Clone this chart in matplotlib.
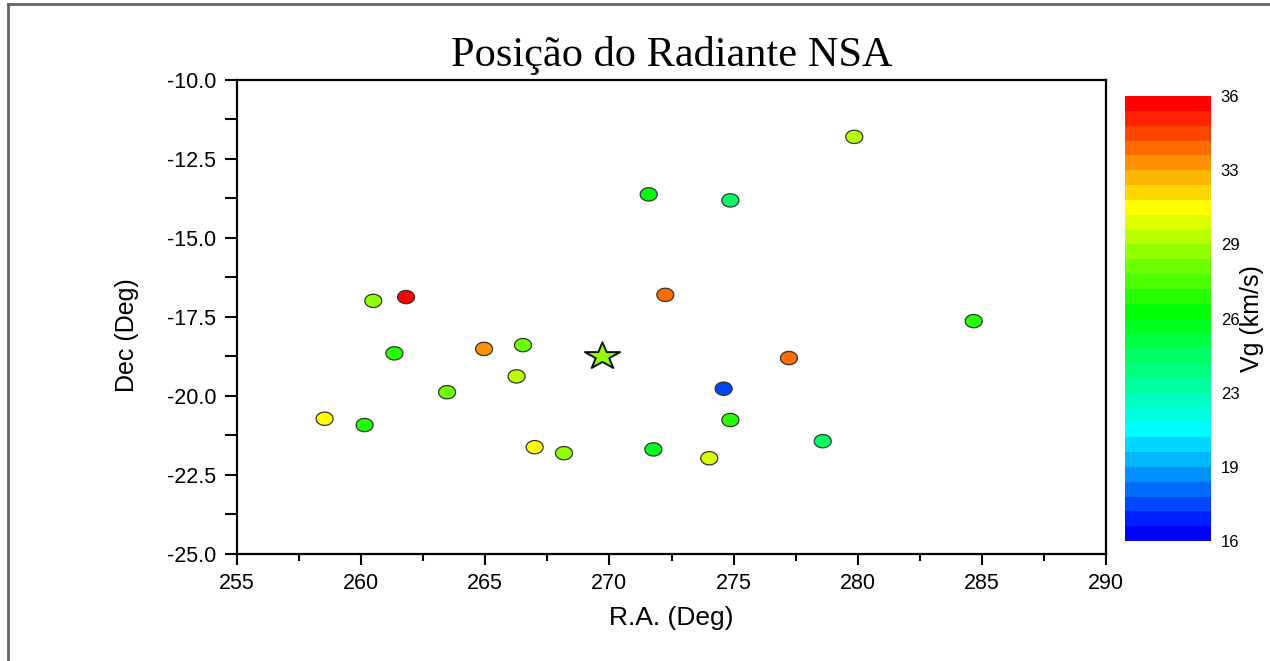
import matplotlib
matplotlib.use("Agg")
import matplotlib.pyplot as plt
import numpy as np
from matplotlib.colors import LinearSegmentedColormap, ListedColormap, BoundaryNorm
from matplotlib.markers import MarkerStyle
from matplotlib.path import Path
from matplotlib.lines import Line2D
from matplotlib.ticker import MultipleLocator, FormatStrFormatter

plt.rcParams["axes.unicode_minus"] = False
plt.rcParams["font.family"] = ["Liberation Sans", "DejaVu Sans"]

# meteor radiants (R.A., Dec) and geocentric velocity
ra = [271.58, 260.49, 261.81, 272.25, 261.34, 264.95, 266.52, 266.26, 263.46,
      258.53, 260.14, 266.99, 268.17, 271.77, 279.86, 274.87, 284.67, 277.23,
      274.60, 274.87, 278.59, 274.02]
dec = [-13.62, -16.99, -16.87, -16.80, -18.65, -18.51, -18.39, -19.38, -19.88,
       -20.72, -20.92, -21.62, -21.81, -21.69, -11.80, -13.81, -17.63, -18.80,
       -19.77, -20.76, -21.43, -21.97]
vg = [26.3, 29.0, 35.7, 33.7, 27.0, 33.0, 28.3, 29.7, 28.6,
      31.0, 27.0, 31.0, 29.0, 25.7, 29.7, 24.0, 27.0, 33.7,
      17.7, 27.3, 24.3, 30.3]

# mean radiant
mean_ra = [269.69]
mean_dec = [-18.72]
mean_vg = [28.9]

vmin, vmax, nlev = 16, 36, 30
cbar_ticks = np.linspace(vmin, vmax, 7)

# Origin-like rainbow, 30 discrete levels
base = LinearSegmentedColormap.from_list(
    "rb", [(0, "#0000ff"), (7 / 29, "#00ffff"), (15 / 29, "#00ff00"),
           (22 / 29, "#ffff00"), (1, "#ff0000")])
cmap = ListedColormap([base(i / 29) for i in range(nlev)])
norm = BoundaryNorm(np.linspace(vmin, vmax, nlev + 1), cmap.N)

# markers look horizontally stretched in the original
t = np.linspace(0, 2 * np.pi, 60)
ell = MarkerStyle(Path(np.column_stack([1.28 * np.cos(t), np.sin(t)])))
sv = MarkerStyle("*").get_path().vertices.copy()
sv[:, 0] *= 1.3
star = MarkerStyle(Path(sv, MarkerStyle("*").get_path().codes))

fig = plt.figure(figsize=(12.7, 6.61), dpi=100)
ax = fig.add_axes([0.1866, 0.1619, 0.6843, 0.7171])

ax.scatter(ra, dec, c=vg, cmap=cmap, norm=norm, marker=ell, s=150,
           edgecolors="#333333", linewidths=0.9, zorder=3)
ax.scatter(mean_ra, mean_dec, c=mean_vg, cmap=cmap, norm=norm, marker=star,
           s=640, edgecolors="#111111", linewidths=1.4, zorder=4)

ax.set_xlim(255, 290)
ax.set_ylim(-25, -10)
ax.xaxis.set_major_locator(MultipleLocator(5))
ax.xaxis.set_minor_locator(MultipleLocator(2.5))
ax.yaxis.set_major_locator(MultipleLocator(2.5))
ax.yaxis.set_minor_locator(MultipleLocator(1.25))
ax.yaxis.set_major_formatter(FormatStrFormatter("%.1f"))
ax.tick_params(which="major", direction="out", length=8, width=1.5,
               labelsize=15.5, pad=6, colors="black")
ax.tick_params(which="minor", direction="out", length=5, width=1.5)
ax.tick_params(axis="y", which="both", length=9)
for s in ax.spines.values():
    s.set_linewidth(1.6)

ax.set_xlabel("R.A. (Deg)", fontsize=19, labelpad=8)
ax.set_ylabel("Dec (Deg)", fontsize=18)
ax.yaxis.set_label_coords(-0.113, 0.462)
ax.set_title("Posição do Radiante NSA", fontsize=30.5, family="Liberation Serif", pad=10)

cax = fig.add_axes([0.8858, 0.1815, 0.0677, 0.6732])
cb = fig.colorbar(plt.cm.ScalarMappable(norm=norm, cmap=cmap), cax=cax,
                  ticks=cbar_ticks)
cb.outline.set_visible(False)
cb.ax.minorticks_off()
cb.ax.set_yticklabels([f"{v:.0f}" for v in cbar_ticks])
cb.ax.tick_params(length=0, labelsize=12, pad=7)
cax.text(1.48, 0.5, "Vg (km/s)", rotation=90, ha="center", va="center",
         fontsize=18, transform=cax.transAxes)

# frame around the whole picture (top and left edges visible)
fig.add_artist(Line2D([8 / 1270, 1], [1 - 3.5 / 661, 1 - 3.5 / 661],
                      color="#666666", lw=2, transform=fig.transFigure))
fig.add_artist(Line2D([8 / 1270, 8 / 1270], [0, 1 - 3.5 / 661],
                      color="#666666", lw=2, transform=fig.transFigure))

fig.savefig("out.png", dpi=100)
